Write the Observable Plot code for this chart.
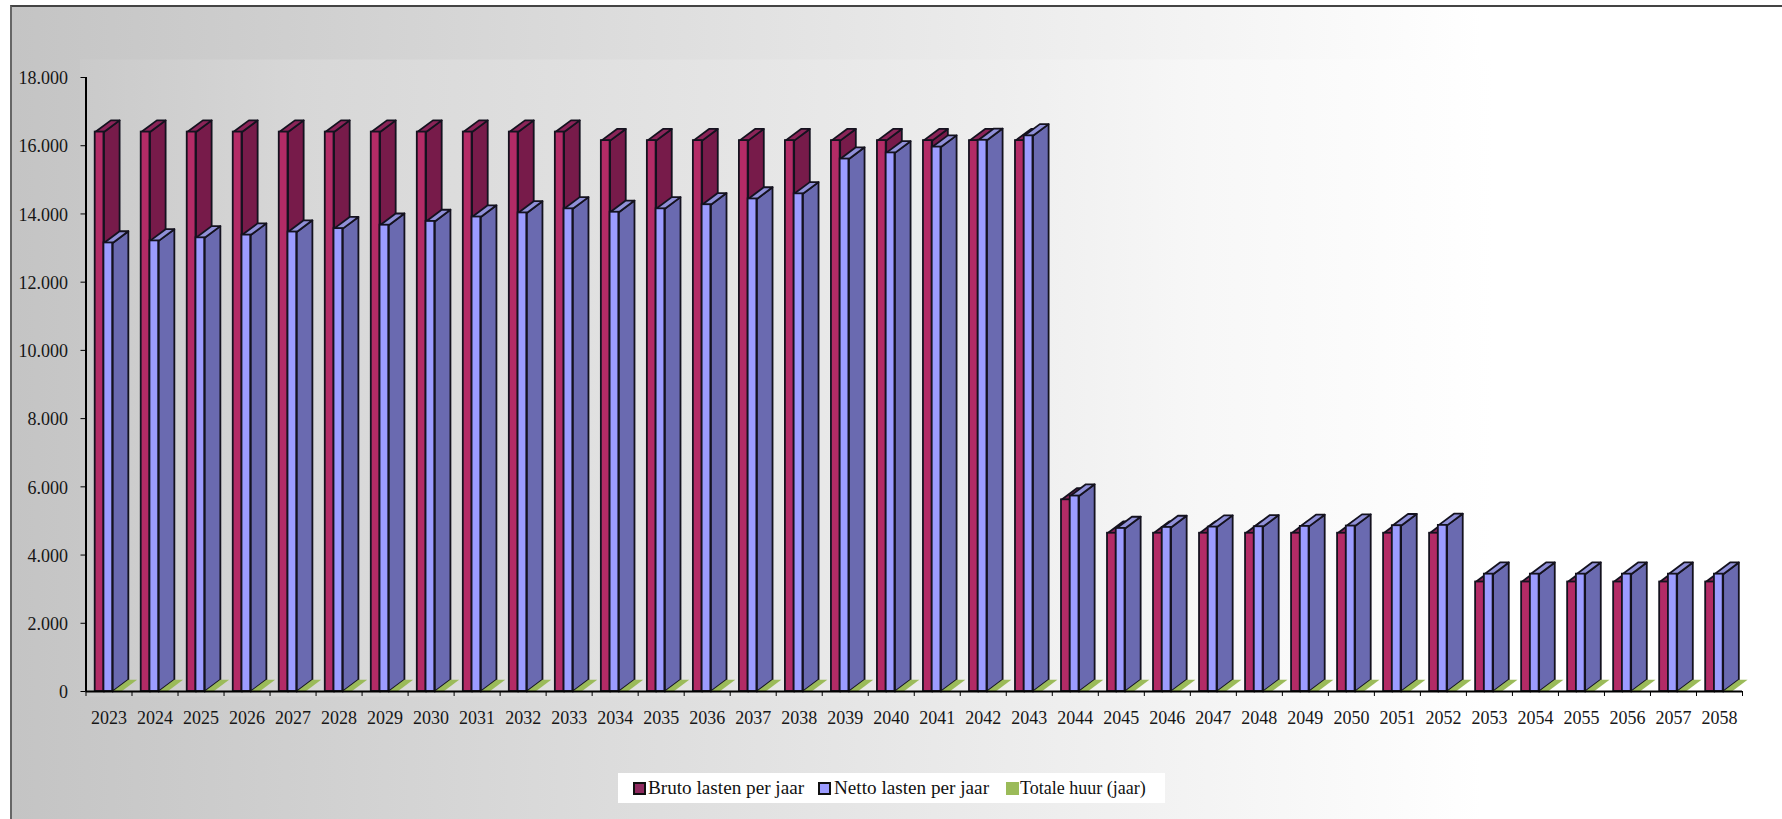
<!DOCTYPE html>
<html lang="nl">
<head>
<meta charset="utf-8">
<script src="https://cdn.jsdelivr.net/npm/d3@7"></script>
<script src="https://cdn.jsdelivr.net/npm/@observablehq/plot@0.6"></script>
<style>
  html, body { margin: 0; padding: 0; background: #fff; overflow: hidden; }
  #panel {
    position: absolute; left: 10px; top: 5px; right: 0; bottom: 0;
    border-left: 2px solid #666; border-top: 2px solid #444;
    background: linear-gradient(to right, #c4c4c4 0, #ffffff 1470px);
  }
  #chart { position: relative; }
  #legend {
    position: relative; margin: 13px 0 0 618px; width: 547px; height: 30px;
    background: #fff; font: 19.2px "Liberation Serif", serif; color: #111;
    line-height: 30px;
  }
  #legend span { position: absolute; white-space: nowrap; }
  #legend i { position: absolute; top: 9px; width: 9px; height: 9px; border: 2px solid #111; box-sizing: content-box; }
</style>
</head>
<body>
<div id="panel"></div>
<div id="chart"></div>
<script>
const years = [2023,2024,2025,2026,2027,2028,2029,2030,2031,2032,2033,2034,2035,2036,2037,2038,2039,2040,2041,2042,2043,2044,2045,2046,2047,2048,2049,2050,2051,2052,2053,2054,2055,2056,2057,2058];
const bruto = [16400,16400,16400,16400,16400,16400,16400,16400,16400,16400,16400,16150,16150,16150,16150,16150,16150,16150,16150,16150,16150,5620,4640,4640,4640,4640,4640,4640,4640,4640,3210,3210,3210,3210,3210,3210];
const netto = [13150,13210,13300,13380,13470,13570,13670,13780,13910,14030,14150,14050,14150,14270,14440,14590,15610,15790,15960,16160,16290,5730,4780,4810,4820,4830,4840,4850,4860,4870,3440,3440,3440,3440,3440,3440];
const huur = years.map(() => 0);
const yTicks = [0,2000,4000,6000,8000,10000,12000,14000,16000,18000];
const bandEdges = [2022.5, ...years.map(y => y + 0.5)];
const seriesNames = ["Bruto lasten per jaar", "Netto lasten per jaar", "Totale huur (jaar)"];

// Column geometry, in axis units: width of a column and the oblique depth of the 3D extrusion.
const barW = 0.19, start = -0.30, depthX = 0.34, depthY = 343;
const outline = "#14121f";

const rows = (values, slot) => years.map((year, i) => {
  const x1 = year + start + slot * barW;
  return {year, value: values[i], x1, x2: x1 + barW};
});
const side = d => [
  {id: d.year, x: d.x2, y: 0},
  {id: d.year, x: d.x2 + depthX, y: depthY},
  {id: d.year, x: d.x2 + depthX, y: d.value + depthY},
  {id: d.year, x: d.x2, y: d.value}
];
const top3d = d => [
  {id: d.year, x: d.x1, y: d.value},
  {id: d.year, x: d.x1 + depthX, y: d.value + depthY},
  {id: d.year, x: d.x2 + depthX, y: d.value + depthY},
  {id: d.year, x: d.x2, y: d.value}
];

const column = (data, front, sideFill, topFill) => [
  Plot.line(data.flatMap(side), {x: "x", y: "y", z: "id", curve: "linear-closed", fill: sideFill, stroke: outline, strokeWidth: 1.8}),
  Plot.line(data.flatMap(top3d), {x: "x", y: "y", z: "id", curve: "linear-closed", fill: topFill, stroke: outline, strokeWidth: 1.8}),
  Plot.rectY(data, {x1: "x1", x2: "x2", y1: 0, y2: "value", fill: front, stroke: outline, strokeWidth: 1.8})
];

const nl = d3.formatLocale({decimal: ",", thousands: ".", grouping: [3], currency: ["€", ""]});

// Slightly lighter gradient behind the plotting area.
const plotGradient = () => {
  const defs = d3.create("svg:defs");
  const g = defs.append("linearGradient").attr("id", "plotBg");
  [[0, "#cacaca"], [0.13, "#d7d7d7"], [0.34, "#e2e2e2"], [0.553, "#eeeeee"], [0.674, "#f7f7f7"], [0.85, "#ffffff"], [1, "#ffffff"]]
    .forEach(([o, c]) => g.append("stop").attr("offset", o).attr("stop-color", c));
  return defs.node();
};

const chart = Plot.plot({
  width: 1782,
  height: 760,
  marginLeft: 85.5,
  marginRight: 40,
  marginTop: 77,
  marginBottom: 69,
  style: {background: "transparent", fontFamily: "'Liberation Serif', serif", fontSize: "18px", color: "#161616"},
  x: {domain: [2022.5, 2058.5], label: null},
  y: {domain: [0, 18000], label: null},
  marks: [
    plotGradient,
    Plot.frame({fill: "url(#plotBg)", stroke: null, insetTop: -18, insetLeft: -6, insetBottom: -5}),
    ...column(rows(bruto, 0), "#b32b66", "#771b4a", "#8b2458"),
    ...column(rows(netto, 1), "#9c9cff", "#6a6ab0", "#9090d8"),
    Plot.line(rows(huur, 2).flatMap(top3d), {x: "x", y: "y", z: "id", curve: "linear-closed", fill: "#9bbb59"}),
    Plot.ruleY([0], {stroke: "#000", strokeWidth: 2}),
    Plot.ruleX([2022.5], {stroke: "#000", strokeWidth: 2}),
    Plot.axisY({ticks: yTicks, tickSize: 5, text: null, stroke: "#000", label: null}),
    Plot.axisY({ticks: yTicks, tickFormat: nl.format(","), tickSize: 0, tickPadding: 18, dy: 1, label: null}),
    Plot.axisX({ticks: bandEdges, tickSize: 5, text: null, stroke: "#000", label: null}),
    Plot.axisX({ticks: years, tickFormat: d => String(d), tickSize: 0, tickPadding: 20, label: null})
  ]
});
document.getElementById("chart").append(chart);

// Legend under the chart
const legend = d3.select("body").append("div").attr("id", "legend");
const legendItems = [
  {name: seriesNames[0], fill: "#8f2a5f", box: true, sw: 15, tx: 30, size: 19.2},
  {name: seriesNames[1], fill: "#9c9cff", box: true, sw: 200, tx: 216, size: 19.2},
  {name: seriesNames[2], fill: "#9bbb59", box: false, sw: 388, tx: 402, size: 18}
];
legendItems.forEach(d => {
  legend.append("i").style("left", d.sw + "px").style("background", d.fill)
    .style("border-color", d.box ? "#111" : d.fill);
  legend.append("span").style("left", d.tx + "px").style("font-size", d.size + "px").text(d.name);
});
</script>
</body>
</html>
